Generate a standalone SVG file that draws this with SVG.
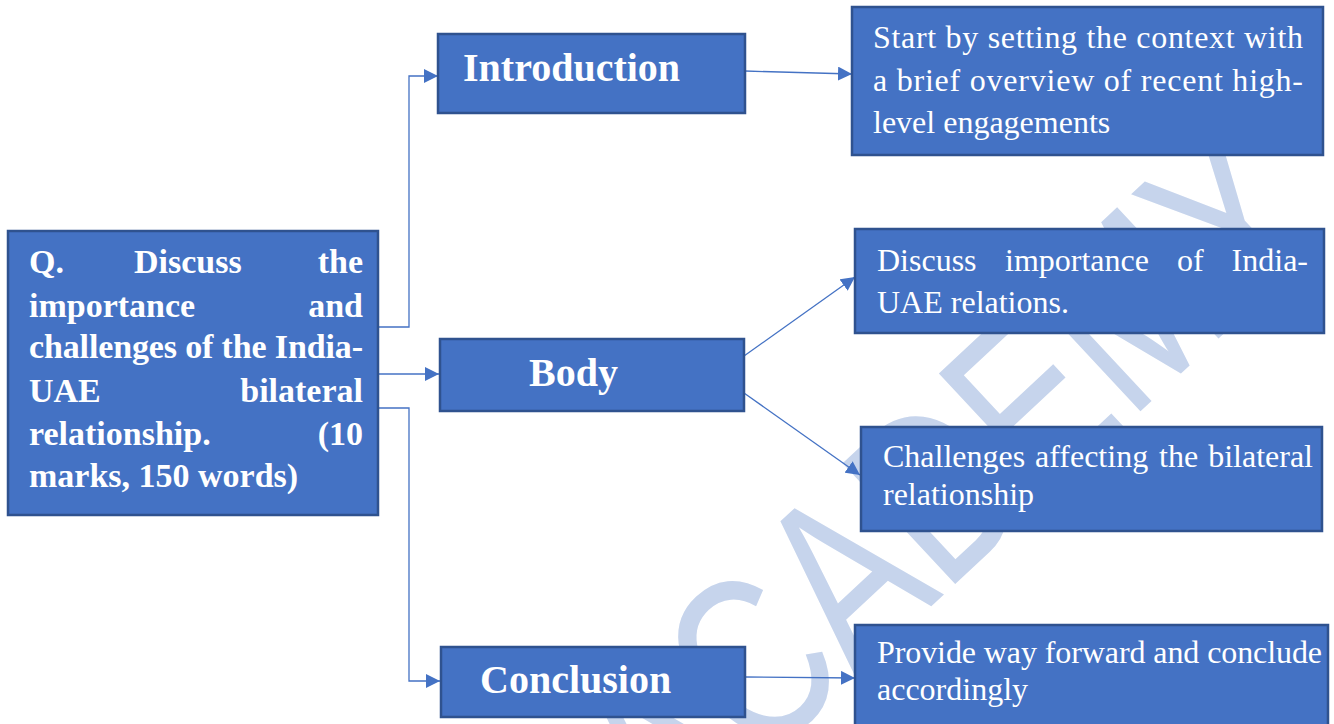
<svg xmlns="http://www.w3.org/2000/svg" width="1334" height="724" viewBox="0 0 1334 724">
  <style>
    .box { fill: #4472c4; stroke: #2f528f; stroke-width: 2.5; }
    .t { font-family: "Liberation Serif", "Times New Roman", serif; fill: #ffffff; }
    .b { font-weight: bold; }
    .q { font-size: 34px; }
    .h { font-size: 40px; }
    .r { font-size: 32px; }
    .end { text-anchor: end; }
    .link { fill: none; stroke: #4472c4; stroke-width: 1.3; marker-end: url(#arrow); }
    .mark { font-family: "Liberation Sans", Arial, sans-serif; font-size: 240px; fill: #c6d4ec; }
  </style>
  <defs>
    <marker id="arrow" viewBox="0 0 14 14" refX="14" refY="7" markerWidth="14" markerHeight="14" markerUnits="userSpaceOnUse" orient="auto">
      <path d="M0,0 L14,7 L0,14 z" fill="#4472c4"/>
    </marker>
  </defs>

  <rect width="1334" height="724" fill="#ffffff"/>

  <!-- background watermark -->
  <text class="mark" transform="translate(670,850) rotate(-43) scale(0.76,1)">ACADEMY</text>

  <!-- connectors -->
  <g id="connectors">
    <path class="link" d="M378,327 H409 V76 H438"/>
    <path class="link" d="M378,374 H439"/>
    <path class="link" d="M378,408 H409 V681 H440"/>
    <path class="link" d="M745,71 L852,74"/>
    <path class="link" d="M744,356 L855,277"/>
    <path class="link" d="M744,393 L860,475"/>
    <path class="link" d="M745,677 L855,678"/>
  </g>

  <!-- question -->
  <g id="question">
    <rect class="box" x="8" y="231" width="370" height="284"/>
    <text class="t b q" y="273"><tspan x="29">Q.</tspan><tspan x="134">Discuss</tspan></text>
    <text class="t b q end" x="363" y="273">the</text>
    <text class="t b q" x="29" y="317">importance</text>
    <text class="t b q end" x="363" y="317">and</text>
    <text class="t b q" x="29" y="358" textLength="334" lengthAdjust="spacing">challenges of the India-</text>
    <text class="t b q" x="29" y="402">UAE</text>
    <text class="t b q end" x="363" y="402">bilateral</text>
    <text class="t b q" x="29" y="445">relationship.</text>
    <text class="t b q end" x="363" y="445">(10</text>
    <text class="t b q" x="29" y="487">marks, 150 words)</text>
  </g>

  <!-- introduction -->
  <g id="introduction">
    <rect class="box" x="438" y="34" width="307" height="79"/>
    <text class="t b h" x="463" y="81">Introduction</text>
  </g>

  <!-- body -->
  <g id="body">
    <rect class="box" x="440" y="339" width="304" height="72"/>
    <text class="t b h" x="529" y="386">Body</text>
  </g>

  <!-- conclusion -->
  <g id="conclusion">
    <rect class="box" x="441" y="647" width="304" height="70"/>
    <text class="t b h" x="480" y="693">Conclusion</text>
  </g>

  <!-- introduction detail -->
  <g id="context">
    <rect class="box" x="852" y="7" width="471" height="148"/>
    <text class="t r" x="873" y="48" textLength="430" lengthAdjust="spacing">Start by setting the context with</text>
    <text class="t r" x="873" y="91" textLength="430" lengthAdjust="spacing">a brief overview of recent high-</text>
    <text class="t r" x="873" y="133">level engagements</text>
  </g>

  <!-- body detail: importance -->
  <g id="importance">
    <rect class="box" x="855" y="229" width="469" height="104"/>
    <text class="t r" y="271"><tspan x="877">Discuss</tspan><tspan x="1005">importance</tspan><tspan x="1177">of</tspan></text>
    <text class="t r end" x="1308" y="271">India-</text>
    <text class="t r" x="877" y="313">UAE relations.</text>
  </g>

  <!-- body detail: challenges -->
  <g id="challenges">
    <rect class="box" x="861" y="427" width="461" height="104"/>
    <text class="t r" y="467"><tspan x="883">Challenges</tspan><tspan x="1035">affecting</tspan><tspan x="1159">the</tspan></text>
    <text class="t r end" x="1313" y="467">bilateral</text>
    <text class="t r" x="883" y="505">relationship</text>
  </g>

  <!-- conclusion detail -->
  <g id="way-forward">
    <rect class="box" x="855" y="625" width="473" height="110"/>
    <text class="t r" x="877" y="663" textLength="445" lengthAdjust="spacing">Provide way forward and conclude</text>
    <text class="t r" x="877" y="700">accordingly</text>
  </g>
</svg>
